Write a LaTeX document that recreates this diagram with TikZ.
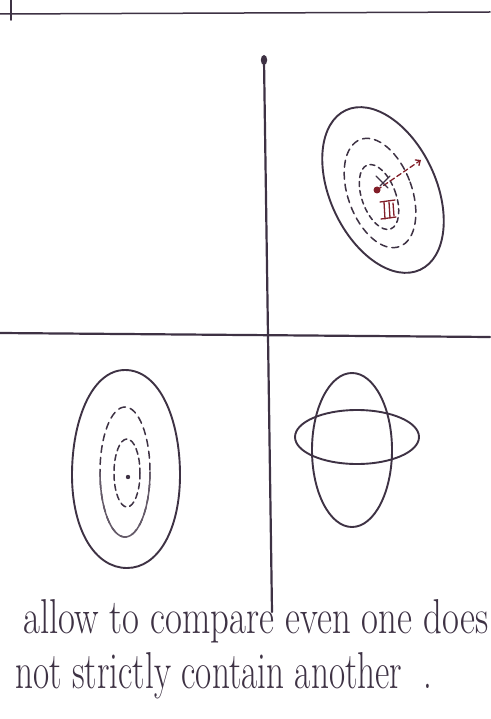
\documentclass[tikz,border=0pt]{standalone}
\usetikzlibrary{arrows.meta,calc}
\definecolor{ink}{RGB}{62,50,68}
\definecolor{redink}{RGB}{130,30,40}
\tikzset{
  inkline/.style={draw=ink, line width=1.9pt, line cap=round},
  axisline/.style={draw=ink, line width=2.2pt, line cap=round},
  dashline/.style={draw=ink, line width=1.5pt, dash pattern=on 7pt off 5pt, line cap=round},
  redline/.style={draw=redink, line width=1.3pt, line cap=round},
  hand/.style={inner sep=0pt, anchor=base west, text=ink},
}
\begin{document}
\begin{tikzpicture}[x=1pt,y=-1pt]
\useasboundingbox (0,0) rectangle (490,719);
\fill[white] (0,0) rectangle (490,719);
% top border line and tick
\coordinate (tl) at (0,14);
\coordinate (tr) at (490,12);
\draw[inkline, line width=1.5pt] (tl) -- (tr);
\coordinate (tickA) at (11,0);
\coordinate (tickB) at (11,20);
\draw[inkline] (tickA) -- (tickB);
% axes
\coordinate (vtop) at (264,60);
\coordinate (vbot) at (272,612);
\draw[axisline] (vtop) -- (vbot);
\fill[ink] (vtop) ellipse [x radius=3.2, y radius=5];
\coordinate (hl) at (0,333);
\coordinate (hr) at (490,337);
\draw[axisline] (hl) -- (hr);
% top-right quadrant
\coordinate (trc) at (383,190);
\draw[inkline, rotate around={25:(trc)}] (trc) ellipse [x radius=53, y radius=88];
\coordinate (trm) at (380,193);
\draw[dashline, rotate around={20:(trm)}] (trm) ellipse [x radius=32, y radius=57];
\coordinate (tri) at (379,197);
\draw[dashline, dash pattern=on 5pt off 4pt, rotate around={20:(tri)}] (tri) ellipse [x radius=17, y radius=34];
\coordinate (dotTR) at (377,190);
\fill[redink] (dotTR) circle (3.5);
\coordinate (rim) at (421,160);
\draw[redline, dash pattern=on 5pt off 3pt, -{Straight Barb[length=4pt,width=7pt]}] (dotTR) -- (rim);
\coordinate (xa) at (376,176);
\coordinate (xb) at (388,188);
\coordinate (xc) at (390,176);
\coordinate (xd) at (380,186);
\draw[inkline, line width=1.3pt] (xa) -- (xb) (xc) -- (xd);
% scribble below the dot
\coordinate (s1) at (380,202);
\coordinate (s2) at (395,200);
\draw[redline] (s1) -- (s2);
\coordinate (s3) at (381,219);
\coordinate (s4) at (396,217);
\draw[redline] (s3) -- (s4);
\coordinate (s5) at (384,202);
\coordinate (s6) at (385,219);
\draw[redline] (s5) -- (s6);
\coordinate (s7) at (389,202);
\coordinate (s8) at (390,218);
\draw[redline] (s7) -- (s8);
\coordinate (s9) at (393,203);
\coordinate (s10) at (394,216);
\draw[redline] (s9) -- (s10);
% bottom-left quadrant
\coordinate (blc) at (126,470);
\draw[inkline] (125,370) .. controls (160,370) and (180,420) .. (180,475)
   .. controls (180,530) and (158,568) .. (127,568)
   .. controls (95,568) and (72,530) .. (72,475)
   .. controls (72,420) and (92,370) .. (125,370);
\coordinate (blm) at (125,472);
\draw[dashline] (blm) ellipse [x radius=25, y radius=65];
\draw[inkline, line width=1.5pt, draw=ink!80] ($(blm)+(25,0)$) arc [start angle=0, end angle=180, x radius=25, y radius=65];
\coordinate (bli) at (127,473);
\draw[dashline, dash pattern=on 6pt off 4pt] (bli) ellipse [x radius=13, y radius=34];
\coordinate (dotBL) at (128,477);
\fill[ink] (dotBL) circle (2.2);
% bottom-right quadrant
\coordinate (brv) at (352,450);
\draw[inkline] (brv) ellipse [x radius=40, y radius=77];
\coordinate (brh) at (357,437);
\draw[inkline] (brh) ellipse [x radius=62, y radius=27];
% text
\node[hand] (line1) at (23,633) {\resizebox{465pt}{34pt}{\fontsize{30}{36}\selectfont allow to compare even one does}};
\node[hand] (line2) at (15,688) {\resizebox{417pt}{36pt}{\fontsize{30}{36}\selectfont not strictly contain another\ \ .}};
\end{tikzpicture}
\end{document}
